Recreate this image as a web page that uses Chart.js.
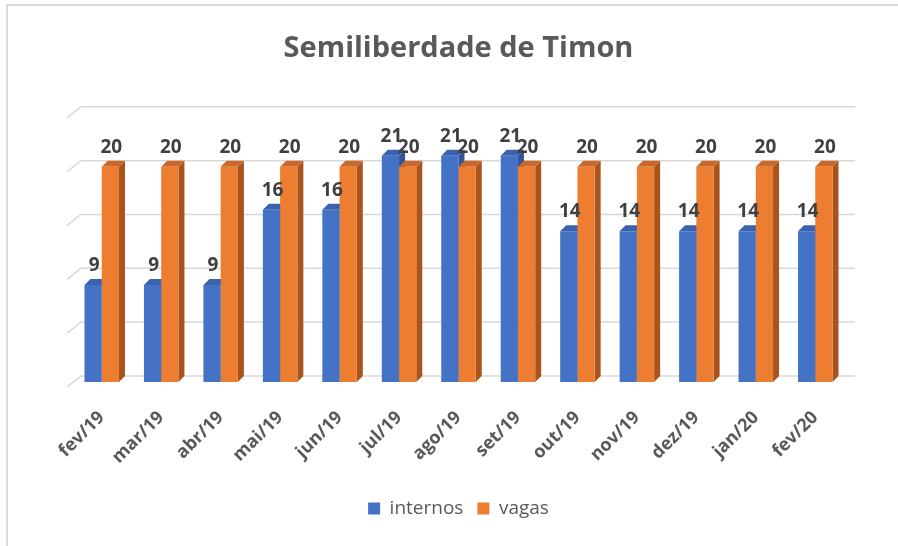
<!DOCTYPE html>
<html>
<head>
<meta charset="utf-8">
<script src="https://cdn.jsdelivr.net/npm/chart.js@4.4.1/dist/chart.umd.min.js"></script>
<style>
  html, body { margin: 0; padding: 0; background: #fff; }
  #wrap { position: relative; width: 898px; height: 546px; }
  #frame { position: absolute; left: 6px; top: 4px; right: 0; bottom: 0;
           border-top: 2px solid #dcdcdc; border-left: 2px solid #dcdcdc; }
  canvas { position: absolute; left: 0; top: 0; }
</style>
</head>
<body>
<div id="wrap">
  <div id="frame"></div>
  <canvas id="myChart" width="898" height="546"></canvas>
</div>
<script>
// values
const months = ['fev/19', 'mar/19', 'abr/19', 'mai/19', 'jun/19', 'jul/19', 'ago/19',
                'set/19', 'out/19', 'nov/19', 'dez/19', 'jan/20', 'fev/20'];
const internos = [9, 9, 9, 16, 16, 21, 21, 21, 14, 14, 14, 14, 14];
const vagas = [20, 20, 20, 20, 20, 20, 20, 20, 20, 20, 20, 20, 20];
const gridValues = [0, 5, 10, 15, 20, 25];

// colours for the fake 3d faces
const sideColors = ['#2f5597', '#a9541b'];
const topColors = ['#3a62ad', '#c9682a'];
const DX = 6, DY = 6;

/**
 * draws back gridlines and the side/top faces before the bars are drawn,
 * so the front faces from Chart.js sit on top.
 */
const depthPlugin = {
  id: 'depth',
  beforeDatasetsDraw(chart) {
    const ctx = chart.ctx;
    const area = chart.chartArea;
    const yScale = chart.scales.y;
    ctx.save();
    ctx.strokeStyle = '#d9d9d9';
    ctx.lineWidth = 1.5;
    for (let i = 0; i < gridValues.length; i++) {
      let py = yScale.getPixelForValue(gridValues[i]);
      ctx.beginPath();
      ctx.moveTo(area.left - 5, py + 5);
      ctx.lineTo(area.left + 9, py - DY);
      ctx.lineTo(area.right + 10, py - DY);
      ctx.stroke();
    }
    chart.data.datasets.forEach((ds, di) => {
      let meta = chart.getDatasetMeta(di);
      meta.data.forEach((bar) => {
        let left = bar.x - bar.width / 2;
        let right = bar.x + bar.width / 2;
        let top = bar.y;
        let base = bar.base;
        ctx.fillStyle = sideColors[di];
        ctx.beginPath();
        ctx.moveTo(right, top);
        ctx.lineTo(right + DX, top - DY);
        ctx.lineTo(right + DX, base - DY);
        ctx.lineTo(right, base);
        ctx.closePath();
        ctx.fill();
        ctx.fillStyle = topColors[di];
        ctx.beginPath();
        ctx.moveTo(left, top);
        ctx.lineTo(left + DX, top - DY);
        ctx.lineTo(right + DX, top - DY);
        ctx.lineTo(right, top);
        ctx.closePath();
        ctx.fill();
      });
    });
    ctx.restore();
  },
  afterDatasetsDraw(chart) {
    const ctx = chart.ctx;
    ctx.save();
    ctx.font = 'bold 19px "Open Sans"';
    ctx.fillStyle = '#404040';
    ctx.textAlign = 'center';
    ctx.textBaseline = 'bottom';
    chart.data.datasets.forEach((ds, di) => {
      let meta = chart.getDatasetMeta(di);
      meta.data.forEach((bar, i) => {
        ctx.fillText(ds.data[i], bar.x + 1, bar.y - 10);
      });
    });
    ctx.restore();
  }
};

const ctx = document.getElementById('myChart');
new Chart(ctx, {
  type: 'bar',
  data: {
    labels: months,
    datasets: [
      { label: 'internos', data: internos, backgroundColor: '#4472c4',
        barPercentage: 1, categoryPercentage: 0.58 },
      { label: 'vagas', data: vagas, backgroundColor: '#ed7d31',
        barPercentage: 1, categoryPercentage: 0.58 }
    ]
  },
  options: {
    responsive: false,
    animation: false,
    layout: { padding: { left: 72, right: 53, top: 4, bottom: 18 } },
    plugins: {
      title: {
        display: true,
        text: 'Semiliberdade de Timon',
        color: '#595959',
        font: { family: '"Open Sans"', size: 29, weight: 'bold' },
        padding: { top: 27, bottom: 47 }
      },
      legend: {
        position: 'bottom',
        labels: {
          color: '#595959',
          font: { family: '"Open Sans"', size: 19 },
          boxWidth: 12,
          boxHeight: 12,
          padding: 14
        }
      },
      tooltip: { enabled: false }
    },
    scales: {
      x: {
        grid: { display: false },
        border: { display: false },
        ticks: {
          color: '#595959',
          font: { family: '"Open Sans"', size: 18, weight: 'bold' },
          minRotation: 45,
          maxRotation: 45,
          padding: 17
        }
      },
      y: {
        display: false,
        min: 0,
        max: 25
      }
    }
  },
  plugins: [depthPlugin]
});
</script>
</body>
</html>
